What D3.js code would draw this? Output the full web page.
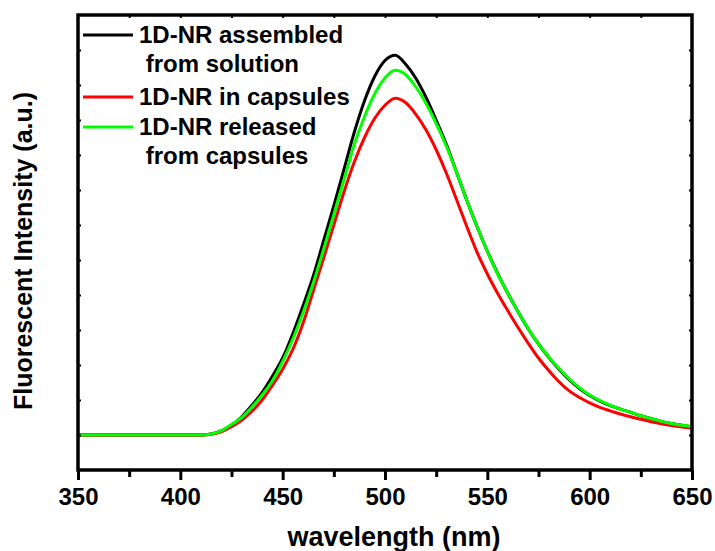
<!DOCTYPE html>
<html>
<head>
<meta charset="utf-8">
<script src="https://cdn.jsdelivr.net/npm/d3@7"></script>
<style>
  body { margin: 0; background: #fff; }
  svg text { font-family: "Liberation Sans", Arial, sans-serif; font-weight: bold; fill: #000; }
</style>
</head>
<body>
<svg class="chart"></svg>
<script>
/******** Data ********/
var wavelengths = [350, 355, 360, 365, 370, 375, 380, 385, 390, 395, 400, 405, 410, 415, 420, 425, 430, 435, 440, 445,
  450, 455, 460, 465, 470, 475, 480, 485, 490, 495, 500, 505, 510, 515, 520, 525, 530, 535, 540, 545,
  550, 555, 560, 565, 570, 575, 580, 585, 590, 595, 600, 605, 610, 615, 620, 625, 630, 635, 640, 645, 650];

var fromSolution = [1.0, 1.0, 1.0, 1.0, 1.0, 1.0, 1.0, 1.0, 1.0, 1.0, 1.0, 1.0, 1.0, 1.03, 1.12, 1.28, 1.52, 1.85, 2.22, 2.68,
  3.2, 3.9, 4.7, 5.55, 6.55, 7.55, 8.6, 9.65, 10.55, 11.25, 11.7, 11.85, 11.6, 11.2, 10.65, 10.0, 9.3, 8.5, 7.7, 6.95,
  6.25, 5.62, 5.05, 4.52, 4.03, 3.6, 3.22, 2.88, 2.58, 2.33, 2.13, 1.97, 1.84, 1.74, 1.65, 1.55, 1.47, 1.39, 1.33, 1.28, 1.23];

var inCapsules = [1.0, 1.0, 1.0, 1.0, 1.0, 1.0, 1.0, 1.0, 1.0, 1.0, 1.0, 1.0, 1.0, 1.02, 1.09, 1.24, 1.42, 1.68, 2.0, 2.42,
  2.88, 3.45, 4.2, 5.12, 6.05, 7.0, 7.95, 8.8, 9.5, 10.05, 10.42, 10.62, 10.5, 10.17, 9.72, 9.15, 8.48, 7.72, 6.95, 6.22,
  5.6, 5.05, 4.55, 4.07, 3.62, 3.2, 2.84, 2.52, 2.26, 2.07, 1.92, 1.79, 1.69, 1.6, 1.52, 1.45, 1.38, 1.32, 1.27, 1.23, 1.2];

var releasedFromCapsules = [1.0, 1.0, 1.0, 1.0, 1.0, 1.0, 1.0, 1.0, 1.0, 1.0, 1.0, 1.0, 1.0, 1.03, 1.12, 1.3, 1.5, 1.8, 2.15, 2.55,
  3.1, 3.75, 4.5, 5.35, 6.3, 7.3, 8.3, 9.3, 10.1, 10.75, 11.2, 11.42, 11.3, 10.95, 10.48, 9.9, 9.25, 8.5, 7.7, 6.95,
  6.25, 5.6, 5.05, 4.52, 4.04, 3.6, 3.23, 2.9, 2.6, 2.35, 2.14, 1.98, 1.85, 1.74, 1.65, 1.55, 1.47, 1.39, 1.33, 1.28, 1.24];

var xTicks = [350, 400, 450, 500, 550, 600, 650];

var seriesNames = [["1D-NR assembled", " from solution"], ["1D-NR in capsules"], ["1D-NR released", " from capsules"]];
var seriesColors = ["#000000", "#ff0000", "#00ff00"];

/******** Layout ********/
var chartWidth = 715;
var chartHeight = 551;
var plotLeft = 78, plotRight = 692, plotTop = 15, plotBottom = 470;

var x = d3.scaleLinear().domain([350, 650]).range([plotLeft, plotRight]);
var y = d3.scaleLinear().domain([0, 13]).range([plotBottom, plotTop]);

var canvas = d3.select(".chart")
  .attr("width", chartWidth)
  .attr("height", chartHeight);

/******** Curves ********/
var allSeries = [fromSolution, inCapsules, releasedFromCapsules];
var line = d3.line()
  .x((d, i) => x(wavelengths[i]))
  .y(d => y(d))
  .curve(d3.curveMonotoneX);

// black first, then red, green on top
[0, 1, 2].forEach(function (k) {
  canvas.append("path")
    .datum(allSeries[k])
    .attr("fill", "none")
    .attr("stroke", seriesColors[k])
    .attr("stroke-width", 3)
    .attr("stroke-linejoin", "round")
    .attr("d", line);
});

/******** Axes ********/
// bottom: minor ticks
canvas.append("g")
  .attr("transform", "translate(0," + plotBottom + ")")
  .call(d3.axisBottom(x).tickValues(d3.range(375, 650, 50)).tickSize(7).tickFormat(""))
  .call(g => g.select(".domain").remove())
  .selectAll("line").attr("stroke", "#000").attr("stroke-width", 3);

// bottom: major ticks + labels
var xAxisGroup = canvas.append("g")
  .attr("transform", "translate(0," + plotBottom + ")")
  .call(d3.axisBottom(x).tickValues(xTicks).tickSize(10).tickPadding(6));
xAxisGroup.select(".domain").remove();
xAxisGroup.selectAll("line").attr("stroke", "#000").attr("stroke-width", 3);
xAxisGroup.selectAll("text")
  .style("font-size", "24px")
  .attr("dy", "0.8em");

// top: small inward ticks every 25
canvas.append("g")
  .attr("transform", "translate(0," + plotTop + ")")
  .call(d3.axisTop(x).tickValues(d3.range(375, 650, 25)).tickSize(-3).tickFormat(""))
  .call(g => g.select(".domain").remove())
  .selectAll("line").attr("stroke", "#000").attr("stroke-width", 2);

// left / right: small inward ticks, no labels
var yTicks = d3.range(1, 13, 1);
canvas.append("g")
  .attr("transform", "translate(" + plotLeft + ",0)")
  .call(d3.axisLeft(y).tickValues(yTicks).tickSize(-3).tickFormat(""))
  .call(g => g.select(".domain").remove())
  .selectAll("line").attr("stroke", "#000").attr("stroke-width", 2);

canvas.append("g")
  .attr("transform", "translate(" + plotRight + ",0)")
  .call(d3.axisRight(y).tickValues(yTicks).tickSize(-3).tickFormat(""))
  .call(g => g.select(".domain").remove())
  .selectAll("line").attr("stroke", "#000").attr("stroke-width", 2);

// frame
canvas.append("rect")
  .attr("x", plotLeft)
  .attr("y", plotTop)
  .attr("width", plotRight - plotLeft)
  .attr("height", plotBottom - plotTop)
  .attr("fill", "none")
  .attr("stroke", "#000")
  .attr("stroke-width", 3.5);

/******** Titles ********/
canvas.append("text")
  .text("wavelength (nm)")
  .attr("x", (plotLeft + plotRight) / 2 + 9)
  .attr("y", 546)
  .style("text-anchor", "middle")
  .style("font-size", "27px");

canvas.append("text")
  .text("Fluorescent Intensity (a.u.)")
  .attr("transform", "translate(32,251) rotate(-90)")
  .style("text-anchor", "middle")
  .style("font-size", "25px");

/******** Legend ********/
var legendRows = [35, 97, 127];
var legend = canvas.append("g");
seriesNames.forEach(function (names, k) {
  legend.append("line")
    .attr("x1", 83)
    .attr("x2", 133)
    .attr("y1", legendRows[k])
    .attr("y2", legendRows[k])
    .attr("stroke", seriesColors[k])
    .attr("stroke-width", 3);
  names.forEach(function (t, j) {
    legend.append("text")
      .text(t)
      .attr("x", 139)
      .attr("y", legendRows[k] + 29 * j + 8)
      .attr("xml:space", "preserve")
      .style("white-space", "pre")
      .style("font-size", "24px");
  });
});
</script>
</body>
</html>
